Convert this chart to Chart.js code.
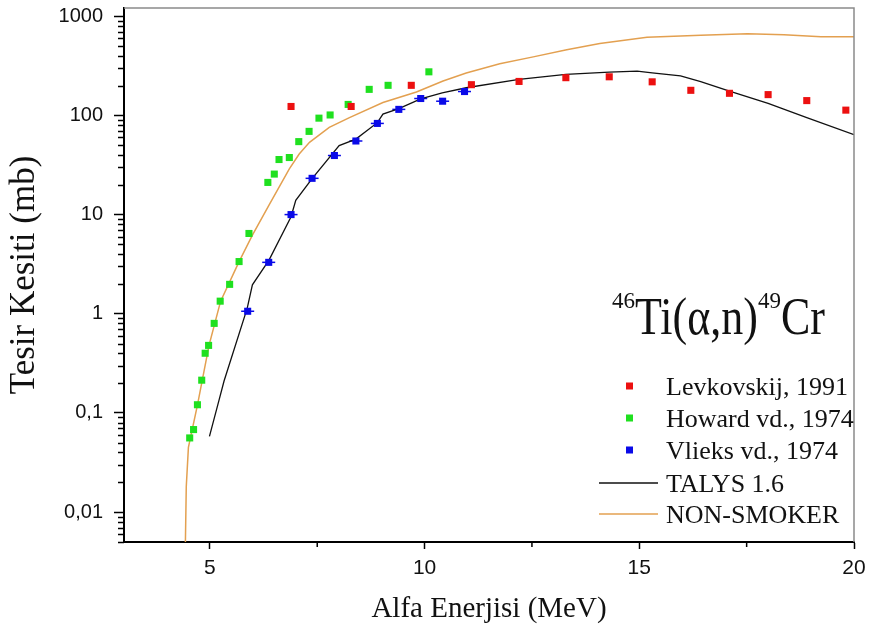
<!DOCTYPE html>
<html>
<head>
<meta charset="utf-8">
<script src="https://cdn.jsdelivr.net/npm/chart.js@4/dist/chart.umd.min.js"></script>
<style>
  html, body { margin: 0; padding: 0; background: #fff; }
  canvas { display: block; }
</style>
</head>
<body>
<canvas id="xsChart" width="869" height="638"></canvas>
<script>
// --- data ---
const levX = [6.89, 8.29, 9.69, 11.09, 12.2, 13.29, 14.3, 15.3, 16.2, 17.1, 18.0, 18.9, 19.81];
const levY = [123, 123, 201, 204, 220, 240, 245, 218, 179, 167, 162, 141, 113];

const howX = [4.53, 4.62, 4.71, 4.81, 4.89, 4.97, 5.1, 5.24, 5.46, 5.68, 5.91, 6.35, 6.5, 6.61, 6.85, 7.07, 7.31, 7.54, 7.8, 8.22, 8.71, 9.15, 10.1];
const howY = [0.056, 0.068, 0.121, 0.214, 0.40, 0.48, 0.80, 1.34, 1.98, 3.36, 6.45, 21.1, 25.6, 35.9, 37.6, 54.4, 69, 93.8, 101, 129, 183, 201, 275];

const vlX = [5.88, 6.37, 6.89, 7.38, 7.90, 8.40, 8.90, 9.40, 9.91, 10.42, 10.93];
const vlY = [1.06, 3.3, 10.0, 23.2, 39.4, 55.2, 83, 115, 148, 139, 174];

const talysX = [4.99, 5.21, 5.33, 5.87, 5.99, 6.38, 6.89, 7.0, 7.38, 8.01, 8.4, 8.9, 9.03, 9.4, 9.91, 10.41, 10.97, 12.2, 13.29, 14.3, 14.95, 15.3, 15.96, 16.43, 17.1, 18.0, 18.9, 20.0];
const talysY = [0.058, 0.133, 0.21, 1.14, 1.96, 3.5, 9.5, 13.9, 23, 49.6, 57.7, 84.5, 103, 117, 147, 169, 190, 231, 259, 273, 280, 268, 250, 219, 176, 132, 95, 64];

const nsX = [4.43, 4.45, 4.5, 4.71, 4.98, 5.25, 5.68, 5.99, 6.38, 6.85, 7.08, 7.32, 7.78, 8.25, 9.03, 9.81, 10.43, 10.97, 11.75, 12.53, 13.31, 14.08, 15.18, 16.43, 17.52, 18.37, 19.23, 20.0];
const nsY = [0.005, 0.018, 0.045, 0.12, 0.48, 1.34, 3.36, 6.2, 12.5, 28.9, 40.8, 53.5, 75.7, 95, 135, 172, 222, 268, 331, 389, 460, 530, 613, 641, 667, 652, 622, 622];

const xMajorTicks = [5, 10, 15, 20];
const xMinorTicks = [7.5, 12.5, 17.5];
const yMajorTicks = [0.01, 0.1, 1, 10, 100, 1000];
const yTickLabels = ['0,01', '0,1', '1', '10', '100', '1000'];

const RED = '#ec1010';
const GREEN = '#1fe01f';
const BLUE = '#0a0ae8';
const ORANGE = '#e3a050';

function pts(xs, ys) {
    return xs.map((x, i) => ({ x: x, y: ys[i] }));
}

const serif = '"Liberation Serif", "Times New Roman", serif';
const sans = '"Liberation Sans", Arial, sans-serif';

const frameAndLegendPlugin = {
    id: 'frameAndLegend',
    afterDraw: function (chart) {
        const ctx = chart.ctx;
        const area = chart.chartArea;
        const xs = chart.scales.x;
        const ys = chart.scales.y;
        ctx.save();

        // grey top / right frame
        ctx.strokeStyle = '#8a8a8a';
        ctx.lineWidth = 1.5;
        ctx.beginPath();
        ctx.moveTo(area.left, area.top);
        ctx.lineTo(area.right, area.top);
        ctx.lineTo(area.right, area.bottom);
        ctx.stroke();

        // minor ticks
        ctx.strokeStyle = '#000';
        ctx.lineWidth = 1.5;
        ctx.beginPath();
        xMinorTicks.forEach(v => {
            const px = xs.getPixelForValue(v);
            ctx.moveTo(px, area.bottom);
            ctx.lineTo(px, area.bottom + 5);
        });
        [0.001].concat(yMajorTicks).forEach(d => {
            for (let k = 2; k <= 9; k++) {
                const v = d * k;
                if (v < ys.min || v > ys.max) continue;
                const py = Math.round(ys.getPixelForValue(v)) + 0.5;
                ctx.moveTo(area.left, py);
                ctx.lineTo(area.left - 6, py);
            }
        });
        ctx.stroke();

        // reaction label
        let x = 612;
        const base = 334;
        ctx.fillStyle = '#111';
        ctx.textBaseline = 'alphabetic';
        ctx.textAlign = 'left';
        const supFont = '23px ' + serif;
        const bigFont = '44px ' + serif;
        function sup(t) {
            ctx.font = supFont;
            ctx.fillText(t, x, base - 26);
            x += ctx.measureText(t).width;
        }
        function big(t) {
            ctx.font = bigFont;
            ctx.save();
            ctx.translate(x, base);
            ctx.scale(1, 1.2);
            ctx.fillText(t, 0, 0);
            ctx.restore();
            x += ctx.measureText(t).width;
        }
        sup('46');
        big('Ti(\u03b1,n)');
        sup('49');
        big('Cr');

        // legend
        const rows = [395, 427, 459, 492, 523];
        const entries = chart.data.datasets.filter(ds => ds.label);
        ctx.font = '26px ' + serif;
        entries.forEach((ds, i) => {
            const by = rows[i];
            const my = by - 9;
            if (ds.showLine) {
                ctx.strokeStyle = ds.borderColor;
                ctx.lineWidth = ds.borderWidth;
                ctx.beginPath();
                ctx.moveTo(599, my);
                ctx.lineTo(658, my);
                ctx.stroke();
            } else {
                ctx.fillStyle = ds.backgroundColor;
                ctx.fillRect(626, my - 3.5, 7, 7);
            }
            ctx.fillStyle = '#111';
            ctx.fillText(ds.label, 666, by);
        });

        ctx.restore();
    }
};

const ctx = document.getElementById('xsChart').getContext('2d');

new Chart(ctx, {
    type: 'scatter',
    data: {
        datasets: [
            {
                label: 'Levkovskij, 1991',
                data: pts(levX, levY),
                pointStyle: 'rect',
                pointRadius: 5,
                borderWidth: 0,
                backgroundColor: RED,
                borderColor: RED
            },
            {
                label: 'Howard vd., 1974',
                data: pts(howX, howY),
                pointStyle: 'rect',
                pointRadius: 5,
                borderWidth: 0,
                backgroundColor: GREEN,
                borderColor: GREEN
            },
            {
                label: 'Vlieks vd., 1974',
                data: pts(vlX, vlY),
                pointStyle: 'rect',
                pointRadius: 5,
                borderWidth: 0,
                backgroundColor: BLUE,
                borderColor: BLUE
            },
            {
                label: 'TALYS 1.6',
                data: pts(talysX, talysY),
                showLine: true,
                pointRadius: 0,
                borderColor: '#111',
                borderWidth: 1.3,
                tension: 0
            },
            {
                label: 'NON-SMOKER',
                data: pts(nsX, nsY),
                showLine: true,
                pointRadius: 0,
                borderColor: ORANGE,
                borderWidth: 1.5,
                tension: 0
            },
            {
                // horizontal error bars on the Vlieks points
                label: '',
                data: pts(vlX, vlY),
                pointStyle: 'line',
                pointRadius: 6.5,
                borderWidth: 1.5,
                borderColor: BLUE,
                backgroundColor: BLUE
            }
        ]
    },
    options: {
        responsive: false,
        animation: false,
        layout: { padding: { top: 5, right: 15, left: 0, bottom: 0 } },
        plugins: {
            legend: { display: false },
            tooltip: { enabled: false }
        },
        scales: {
            x: {
                type: 'linear',
                min: 3,
                max: 20,
                afterBuildTicks: function (scale) {
                    scale.ticks = xMajorTicks.map(v => ({ value: v }));
                },
                afterFit: function (scale) {
                    scale.height = 96;
                    scale.paddingLeft = 0;
                    scale.paddingRight = 0;
                },
                ticks: {
                    color: '#111',
                    font: { family: sans, size: 21 },
                    padding: 7,
                    maxRotation: 0,
                    callback: v => String(v)
                },
                grid: {
                    display: true,
                    drawOnChartArea: false,
                    drawTicks: true,
                    tickLength: 7,
                    tickWidth: 1.5,
                    tickColor: '#000'
                },
                border: { display: true, color: '#000', width: 2 },
                title: {
                    display: true,
                    text: 'Alfa Enerjisi (MeV)',
                    color: '#111',
                    font: { family: serif, size: 29 },
                    padding: { top: 0, bottom: 11 }
                }
            },
            y: {
                type: 'logarithmic',
                min: 0.005,
                max: 1210,
                afterBuildTicks: function (scale) {
                    scale.ticks = yMajorTicks.map(v => ({ value: v }));
                },
                afterFit: function (scale) {
                    scale.width = 124;
                    scale.paddingTop = 0;
                    scale.paddingBottom = 0;
                },
                ticks: {
                    color: '#111',
                    font: { family: sans, size: 20 },
                    padding: 11,
                    callback: function (v) {
                        const i = yMajorTicks.indexOf(v);
                        return i >= 0 ? yTickLabels[i] : '';
                    }
                },
                grid: {
                    display: true,
                    drawOnChartArea: false,
                    drawTicks: true,
                    tickLength: 10,
                    tickWidth: 1.5,
                    tickColor: '#000'
                },
                border: { display: true, color: '#000', width: 2 },
                title: {
                    display: true,
                    text: 'Tesir Kesiti (mb)',
                    color: '#111',
                    font: { family: serif, size: 35 },
                    padding: { top: 4, bottom: 0 }
                }
            }
        }
    },
    plugins: [frameAndLegendPlugin]
});
</script>
</body>
</html>
